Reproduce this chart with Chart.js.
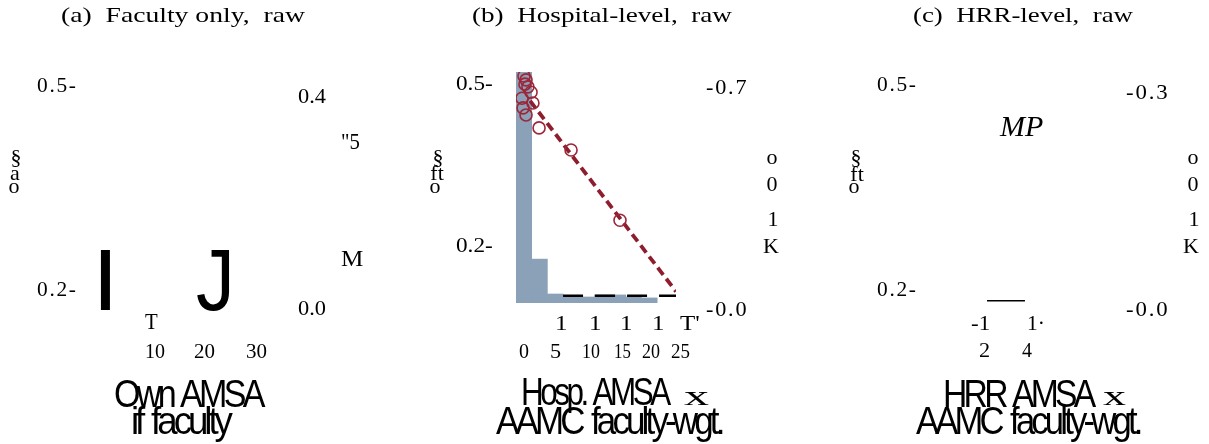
<!DOCTYPE html>
<html>
<head>
<meta charset="utf-8">
<script src="https://cdn.jsdelivr.net/npm/chart.js@4.4.1/dist/chart.umd.min.js"></script>
<style>
    html, body { margin: 0; padding: 0; background: #fff; }
    #stage { position: relative; width: 1209px; height: 444px; overflow: hidden; }
    .panel { position: absolute; top: 0; width: 403px; height: 444px; }
    .lbl { position: absolute; white-space: pre; line-height: 1; transform-origin: 0 0; color: #000; }
</style>
</head>
<body>
<div id="stage">
    <div class="panel" style="left:0"><canvas id="chartA" width="403" height="444"></canvas></div>
    <div class="panel" style="left:403px"><canvas id="chartB" width="403" height="444"></canvas></div>
    <div class="panel" style="left:806px"><canvas id="chartC" width="403" height="444"></canvas></div>
</div>
<script>
// ---- data: panel (b) hospital-level ----
const histEdges = [0, 1, 2, 3, 4, 5, 6, 7, 8, 9];
const histShare = [1.0, 0.19, 0.039, 0.026, 0.026, 0.035, 0.035, 0.026, 0.022];

const hospX = [0.51, 0.64, 0.57, 0.76, 0.96, 0.38, 1.08, 0.45, 0.64, 1.47, 3.51, 6.63];
const hospY = [0.511, 0.504, 0.496, 0.491, 0.481, 0.470, 0.461, 0.452, 0.439, 0.415, 0.374, 0.244];

const fitX = [0.9, 10.2];
const fitY = [0.465, 0.112];

const zeroX = [3.0, 10.2];
const zeroY = [0.104, 0.104];

// ---- data: panel (c) HRR-level ----
const hrrX = [2.94, 5.31];
const hrrY = [0.18, 0.18];

// ---- text (as printed in the figure) ----
const titles = ['(a)  Faculty only,  raw', '(b)  Hospital-level,  raw', '(c)  HRR-level,  raw'];
const leftTicks = ['0.5-', '0.2-'];
const xTicksA = ['10', '20', '30'];
const xTicksB = ['0', '5', '10', '15', '20', '25'];
const xTicksC = ['2', '4'];

const HIST_COLOR = '#8ba1b8';
const DOT_COLOR = '#9e2639';
const FIT_COLOR = '#8e1d2e';

function pairs(xs, ys) {
    return xs.map((x, i) => ({ x: x, y: ys[i] }));
}

const baseOptions = (pad, xMax, yMin, yMax) => ({
    responsive: false,
    animation: false,
    layout: { padding: pad },
    plugins: { legend: { display: false }, tooltip: { enabled: false } },
    scales: {
        x: { type: 'linear', min: 0, max: xMax, offset: false, display: false },
        y: { type: 'linear', min: yMin, max: yMax, display: false },
        yHist: { type: 'linear', min: 0, max: 1, display: false }
    }
});

// Panel (a): axes only
new Chart(document.getElementById('chartA'), {
    type: 'line',
    data: { datasets: [] },
    options: baseOptions({ left: 134, right: 109, top: 72, bottom: 134 }, 10, 0.1663, 0.5146)
});

// Panel (b): histogram + scatter + dashed fit
const histData = histShare.map((h, i) => ({ x: (histEdges[i] + histEdges[i + 1]) / 2, y: h }));
new Chart(document.getElementById('chartB'), {
    type: 'bar',
    data: {
        datasets: [
            {
                type: 'bar',
                data: histData,
                yAxisID: 'yHist',
                backgroundColor: HIST_COLOR,
                borderWidth: 0,
                barPercentage: 1,
                categoryPercentage: 1,
                order: 4
            },
            {
                type: 'line',
                data: pairs(zeroX, zeroY),
                borderColor: '#000',
                borderWidth: 2.5,
                borderDash: [20, 12],
                pointRadius: 0,
                order: 3
            },
            {
                type: 'line',
                data: pairs(fitX, fitY),
                borderColor: FIT_COLOR,
                borderWidth: 3.8,
                borderDash: [9, 5],
                pointRadius: 0,
                order: 2
            },
            {
                type: 'scatter',
                data: pairs(hospX, hospY),
                pointStyle: 'circle',
                pointRadius: 6,
                borderColor: DOT_COLOR,
                backgroundColor: 'rgba(0,0,0,0)',
                borderWidth: 1.6,
                order: 1
            }
        ]
    },
    options: baseOptions({ left: 113, right: 130, top: 72, bottom: 141 }, 10.2, 0.0907, 0.5185)
});

// Panel (c): short segment
new Chart(document.getElementById('chartC'), {
    type: 'line',
    data: {
        datasets: [{
            data: pairs(hrrX, hrrY),
            borderColor: '#000',
            borderWidth: 1.5,
            pointRadius: 0
        }]
    },
    options: baseOptions({ left: 134, right: 109, top: 72, bottom: 134 }, 10, 0.1663, 0.5146)
});

// ---- text placement: ink box fitted to [x0, x1], centred on cy ----
const fonts = {
    title: { size: 21, family: "'Liberation Serif'" },
    tick:  { size: 20, family: "'Liberation Serif'" },
    tickw: { size: 21, family: "'Liberation Serif'", ls: 0.08 },
    glyph: { size: 22, family: "'Liberation Serif'" },
    mid:   { size: 24, family: "'Liberation Serif'" },
    ital:  { size: 30, family: "'Liberation Serif'", style: 'italic' },
    big:   { size: 87, family: "'Liberation Sans'" },
    axis:  { size: 38, family: "'Liberation Sans'", ls: -0.11, ws: 0.1 },
    axisx: { size: 28, family: "'Liberation Serif'" }
};

const mctx = document.createElement('canvas').getContext('2d');
const stage = document.getElementById('stage');

function place(text, x0, x1, cy, kind) {
    const f = fonts[kind];
    const font = (f.style || 'normal') + ' ' + f.size + 'px ' + f.family;
    const ls = (f.ls || 0) * f.size;
    const ws = (f.ws || 0) * f.size;
    mctx.font = font;
    if ('letterSpacing' in mctx) mctx.letterSpacing = ls + 'px';
    if ('wordSpacing' in mctx) mctx.wordSpacing = ws + 'px';
    const m = mctx.measureText(text);
    const inkW = m.actualBoundingBoxLeft + m.actualBoundingBoxRight;
    let sx = 1, left;
    if (x1 == null) {
        left = x0 - (m.actualBoundingBoxRight - m.actualBoundingBoxLeft) / 2;
    } else {
        sx = (x1 - x0) / inkW;
        left = x0 + sx * m.actualBoundingBoxLeft;
    }
    const fa = m.fontBoundingBoxAscent, fd = m.fontBoundingBoxDescent;
    const baseline = (f.size - (fa + fd)) / 2 + fa;
    const inkMid = (m.actualBoundingBoxDescent - m.actualBoundingBoxAscent) / 2;
    const top = cy - (baseline + inkMid);

    const span = document.createElement('span');
    span.className = 'lbl';
    span.textContent = text;
    span.style.font = font;
    span.style.letterSpacing = ls + 'px';
    span.style.wordSpacing = ws + 'px';
    span.style.left = left + 'px';
    span.style.top = top + 'px';
    span.style.transform = 'scaleX(' + sx + ')';
    stage.appendChild(span);
}

// titles
place(titles[0], 61, 306, 15, 'title');
place(titles[1], 472, 733, 15, 'title');
place(titles[2], 913, 1134, 15, 'title');

// panel (a)
place(leftTicks[0], 37, 76, 83, 'tickw');
place(leftTicks[1], 37, 76, 287, 'tickw');
place('0.4', 298, 326, 95, 'tick');
place('0.0', 298, 326, 307, 'tick');
place('"5', 342, 360, 140, 'mid');
place('M', 341, 363, 257, 'mid');
place('T', 145, 158, 320, 'mid');
place(xTicksA[0], 146, 165, 350, 'tick');
place(xTicksA[1], 194, 215, 350, 'tick');
place(xTicksA[2], 246, 267, 350, 'tick');
place('§', 16, null, 157, 'glyph');
place('a', 15, null, 173, 'glyph');
place('o', 14, null, 186, 'glyph');
place('I', 101, 111, 274, 'big');
place('J', 197, 230, 274, 'big');
place('Own AMSA', 115, 268, 391, 'axis');
place('if faculty', 133, 233, 422, 'axis');

// panel (b)
place(leftTicks[0], 456, 492, 82, 'tick');
place(leftTicks[1], 456, 492, 244, 'tick');
place('-0.7', 706, 746, 85, 'tickw');
place('-0.0', 706, 746, 307, 'tickw');
place('o', 772, null, 157, 'glyph');
place('0', 772, null, 182, 'glyph');
place('1', 773, null, 217, 'glyph');
place('K', 771, null, 244, 'glyph');
place('§', 438, null, 157, 'glyph');
place('ft', 437, null, 171, 'glyph');
place('o', 435, null, 186, 'glyph');
place('1', 556, 566, 322, 'tick');
place('1', 590, 600, 322, 'tick');
place('1', 621, 631, 322, 'tick');
place('1', 653, 663, 322, 'tick');
place("T'", 680, 699, 322, 'tick');
place(xTicksB[0], 519, 529, 350, 'tick');
place(xTicksB[1], 551, 561, 350, 'tick');
place(xTicksB[2], 583, 600, 350, 'tick');
place(xTicksB[3], 615, 631, 350, 'tick');
place(xTicksB[4], 642, 660, 350, 'tick');
place(xTicksB[5], 671, 690, 350, 'tick');
place('Hosp. AMSA', 523, 673, 393, 'axis');
place('x', 684, 709, 397, 'axisx');
place('AAMC faculty-wgt.', 496, 723, 422, 'axis');

// panel (c)
place(leftTicks[0], 877, 916, 82, 'tickw');
place(leftTicks[1], 877, 916, 287, 'tickw');
place('-0.3', 1126, 1167, 90, 'tickw');
place('-0.0', 1126, 1167, 307, 'tickw');
place('o', 1193, null, 157, 'glyph');
place('0', 1193, null, 182, 'glyph');
place('1', 1194, null, 217, 'glyph');
place('K', 1191, null, 244, 'glyph');
place('§', 856, null, 157, 'glyph');
place('ft', 857, null, 172, 'glyph');
place('o', 854, null, 186, 'glyph');
place('MP', 999, 1043, 125, 'ital');
place('-1', 971, 989, 322, 'tick');
place('1·', 1028, 1043, 322, 'tick');
place(xTicksC[0], 979, 989, 349, 'tick');
place(xTicksC[1], 1022, 1032, 349, 'tick');
place('HRR AMSA', 946, 1099, 391, 'axis');
place('x', 1103, 1126, 397, 'axisx');
place('AAMC faculty-wgt.', 916, 1141, 422, 'axis');
</script>
</body>
</html>
